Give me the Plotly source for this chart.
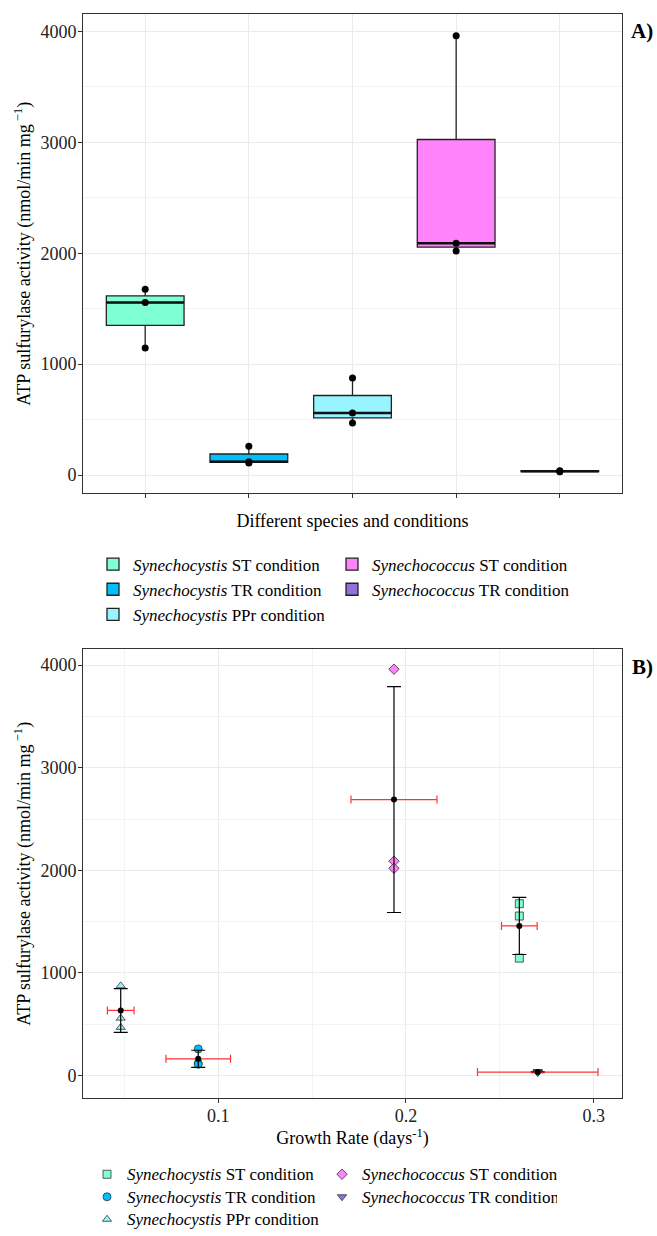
import numpy as np
import plotly.graph_objects as go
from plotly.subplots import make_subplots

# ---------------- data ----------------
categories = ["Synechocystis ST", "Synechocystis TR", "Synechocystis PPr",
              "Synechococcus ST", "Synechococcus TR"]
legend_names = ["<i>Synechocystis</i> ST condition",
                "<i>Synechocystis</i> TR condition",
                "<i>Synechocystis</i> PPr condition",
                "<i>Synechococcus</i> ST condition",
                "<i>Synechococcus</i> TR condition"]
cystis_st = [1675, 1555, 1145]
cystis_tr = [260, 120, 110]
cystis_ppr = [875, 560, 470]
coccus_st = [3960, 2090, 2020]
coccus_tr = [40, 35, 30]
replicates = [cystis_st, cystis_tr, cystis_ppr, coccus_st, coccus_tr]

growth_mean = [0.2604, 0.0893, 0.0480, 0.1936, 0.2702]
growth_sd = [0.0095, 0.0172, 0.0071, 0.0229, 0.0321]

colors = ["#7FFFD4", "#00BFFF", "#98F5FF", "#FF83FA", "#9370DB"]
symbols_b = ["square", "circle", "triangle-up", "diamond", "triangle-down"]
legend_rank = [1, 3, 5, 2, 4]

FONT = "Liberation Serif, Times New Roman, DejaVu Serif, serif"
W, H = 657, 1236
S = 0.9965   # small vertical compensation for the capture


def px_x(x):
    return x / W


def px_y(y):
    return 1 - (y / S) / H


fig = make_subplots(rows=2, cols=1)

# ---------------- Panel A: boxplots ----------------
for i, cat in enumerate(categories):
    fig.add_trace(go.Box(
        x=[cat] * len(replicates[i]), y=replicates[i], name=legend_names[i],
        fillcolor=colors[i], line=dict(color="#222222", width=1.3),
        boxpoints=False, whiskerwidth=0,
        quartilemethod="inclusive", width=0.75,
        marker=dict(color="black", size=7, line=dict(width=0)),
        legend="legend", legendrank=legend_rank[i], showlegend=True,
    ), row=1, col=1)
# thicker median bars (ggplot style)
for i, cat in enumerate(categories):
    med = float(np.median(replicates[i]))
    fig.add_trace(go.Box(
        x=[cat], q1=[med], median=[med], q3=[med], lowerfence=[med], upperfence=[med],
        fillcolor="rgba(0,0,0,0)", line=dict(color="#111111", width=2.4),
        width=0.75, whiskerwidth=0, boxpoints=False, showlegend=False,
        hoverinfo="skip",
    ), row=1, col=1)
for i, cat in enumerate(categories):
    fig.add_trace(go.Scatter(
        x=[cat] * len(replicates[i]), y=replicates[i], mode="markers",
        marker=dict(color="black", size=7), showlegend=False,
    ), row=1, col=1)

# ---------------- Panel B: scatter + error bars ----------------
for i in range(len(categories)):
    fig.add_trace(go.Scatter(
        x=[growth_mean[i]] * len(replicates[i]), y=replicates[i], mode="markers",
        name='<span style="font-size:17px">' + legend_names[i] + "</span>",
        marker=dict(symbol=symbols_b[i], color=colors[i], size=8,
                    line=dict(color="#333333", width=0.8)),
        legend="legend2", legendrank=legend_rank[i], showlegend=True,
    ), row=2, col=1)
for i in range(len(categories)):
    vals = np.array(replicates[i], dtype=float)
    fig.add_trace(go.Scatter(
        x=[growth_mean[i]], y=[vals.mean()], mode="markers",
        marker=dict(color="black", size=6),
        error_y=dict(type="data", array=[vals.std(ddof=1)], color="black",
                     thickness=1.2, width=7),
        error_x=dict(type="data", array=[growth_sd[i]], color="#FF3333",
                     thickness=1.2, width=4),
        showlegend=False,
    ), row=2, col=1)

axis_common = dict(showline=True, mirror=True, linecolor="#333333", linewidth=1,
                   ticks="outside", ticklen=4, tickcolor="#333333", tickwidth=1,
                   showgrid=True, gridcolor="#EBEBEB", gridwidth=1, zeroline=False,
                   tickfont=dict(family=FONT, size=18, color="#222222"))
ytitle = "ATP sulfurylase activity (nmol/min mg<sup> \u22121</sup>)"

xdom = [px_x(83), px_x(622)]
fig.update_layout(
    width=W, height=H, margin=dict(l=0, r=0, t=0, b=0),
    paper_bgcolor="white", plot_bgcolor="white", boxmode="overlay",
    font=dict(family=FONT, size=18, color="black"),
    xaxis=dict(axis_common, domain=xdom, type="category",
               categoryorder="array", categoryarray=categories,
               range=[-0.6, 4.6], showticklabels=False,
               title=dict(text="Different species and conditions",
                          font=dict(family=FONT, size=18), standoff=16)),
    yaxis=dict(axis_common, domain=[px_y(497), px_y(14)], range=[-166, 4157],
               tickvals=[0, 1000, 2000, 3000, 4000], ticklabelstandoff=-2,
               minor=dict(showgrid=True, dtick=500, gridcolor="#F3F3F3", gridwidth=1),
               title=dict(text=ytitle, font=dict(family=FONT, size=18), standoff=5)),
    xaxis2=dict(axis_common, domain=xdom, range=[0.0279, 0.3151],
                tickvals=[0.1, 0.2, 0.3], ticklabelstandoff=-3,
                minor=dict(showgrid=True, dtick=0.05, tick0=0, gridcolor="#F3F3F3", gridwidth=1),
                title=dict(text="Growth Rate (days<sup>-1</sup>)",
                           font=dict(family=FONT, size=18), standoff=0)),
    yaxis2=dict(axis_common, domain=[px_y(1106), px_y(654)], range=[-220, 4153],
                tickvals=[0, 1000, 2000, 3000, 4000], ticklabelstandoff=-2,
                minor=dict(showgrid=True, dtick=500, gridcolor="#F3F3F3", gridwidth=1),
                title=dict(text=ytitle, font=dict(family=FONT, size=18), standoff=5)),
    legend=dict(orientation="h", x=px_x(93), xanchor="left", y=px_y(550.5), yanchor="top",
                entrywidth=194, entrywidthmode="pixels", traceorder="normal",
                font=dict(family=FONT, size=17, color="black"), bgcolor="rgba(0,0,0,0)"),
    legend2=dict(orientation="h", x=px_x(87), xanchor="left", y=px_y(1166.5), yanchor="top",
                 entrywidth=190, entrywidthmode="pixels", traceorder="normal",
                 font=dict(family=FONT, size=15, color="black"), bgcolor="rgba(0,0,0,0)"),
    annotations=[
        dict(text="<b>A)</b>", x=px_x(642), y=px_y(31), xref="paper", yref="paper",
             xanchor="center", yanchor="middle",
             showarrow=False, font=dict(family=FONT, size=21, color="black")),
        dict(text="<b>B)</b>", x=px_x(642), y=px_y(672), xref="paper", yref="paper",
             xanchor="center", yanchor="middle",
             showarrow=False, font=dict(family=FONT, size=21, color="black")),
    ],
)

post = ("document.documentElement.style.margin='0px';"
        "document.body.style.margin='0px';"
        "document.documentElement.style.overflow='hidden';"
        "document.body.style.overflow='hidden';"
        "var gd=document.getElementById('{plot_id}');"
        "gd.style.position='fixed';gd.style.left='0px';gd.style.top='0px';")
fig.write_html("out.html", config={"displayModeBar": False}, post_script=post)
